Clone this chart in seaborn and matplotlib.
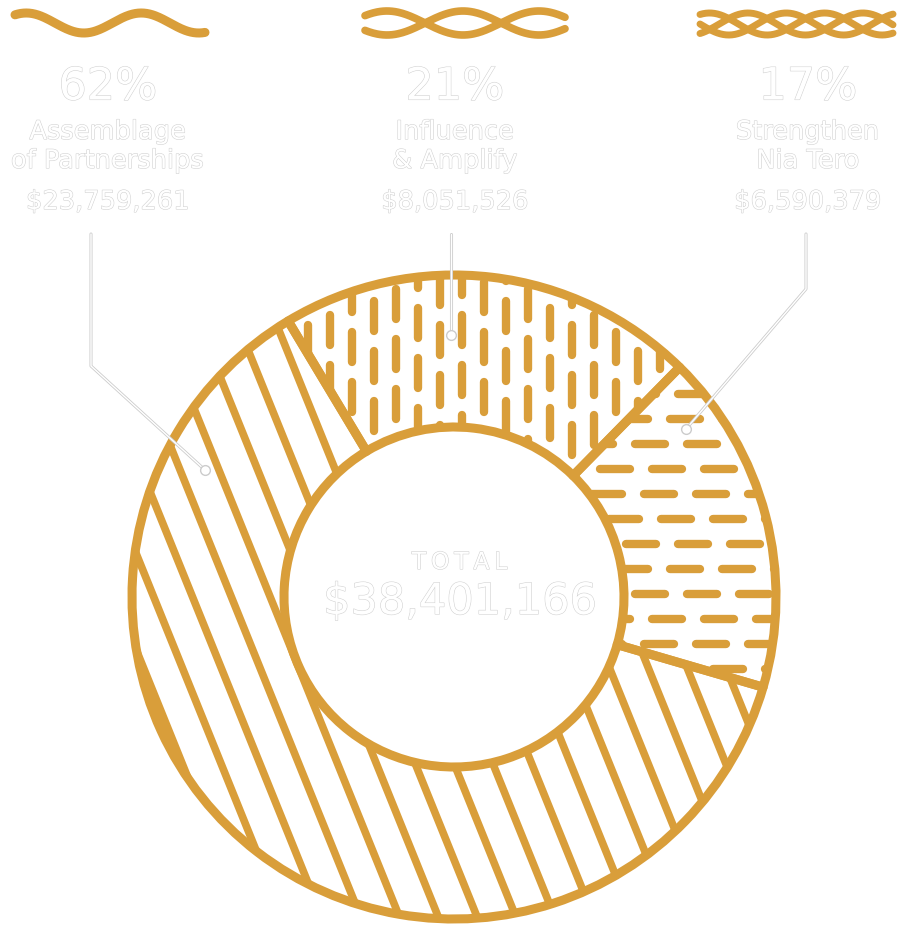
import numpy as np
import matplotlib
matplotlib.use("Agg")
import matplotlib.pyplot as plt
import matplotlib.patheffects as pe
from matplotlib.collections import LineCollection
import seaborn as sns

# data
segments = ["Influence\n& Amplify", "Strengthen\nNia Tero", "Assemblage\nof Partnerships"]
amounts = [8051526, 6590379, 23759261]
total = 38401166
label_order = [2, 0, 1]          # left, middle, right header columns
header_x = [108, 455, 808]

GOLD = "#D99E3A"
W, H = 900, 937

sns.set_theme(style="white")
plt.rcParams["font.family"] = ["DejaVu Sans"]

fig = plt.figure(figsize=(9, 9.37), dpi=100)
ax = fig.add_axes([0, 0, 1, 1])

cx, cy = 454, H - 598
R, ring_w = 322, 152
pcts = np.array(amounts) / total

wedges, _ = ax.pie(amounts, startangle=121, counterclock=False, radius=R,
                   center=(cx, cy),
                   wedgeprops=dict(width=ring_w, facecolor="none",
                                   edgecolor=GOLD, linewidth=6.5,
                                   joinstyle="round", zorder=3))
ax.set_xlim(0, W)
ax.set_ylim(0, H)
ax.set_aspect("equal")
ax.axis("off")


def add_hatch(segs, wedge, lw):
    lc = LineCollection(segs, colors=GOLD, linewidths=lw, capstyle="round", zorder=2)
    ax.add_collection(lc)
    lc.set_clip_path(wedge)


# Influence: short vertical dashes
segs = []
for i, x in enumerate(np.arange(cx - R, cx + R, 22)):
    off = (i % 2) * 24 + (i % 3) * 7
    for y in np.arange(cy - R + off, cy + R, 50):
        segs.append([(x, y), (x, y + 30)])
add_hatch(segs, wedges[0], 6)

# Strengthen: short horizontal dashes
segs = []
for j, y in enumerate(np.arange(cy - R, cy + R, 25)):
    off = (j % 2) * 26 + (j % 3) * 9
    for x in np.arange(cx - R + off, cx + R, 52):
        segs.append([(x, y), (x + 30, y)])
add_hatch(segs, wedges[1], 6)

# Assemblage: steep diagonal lines
ang = np.deg2rad(-68)
d = np.array([np.cos(ang), np.sin(ang)])
n = np.array([-d[1], d[0]])
segs = []
for t in np.arange(-1.2 * R, 1.2 * R, 36):
    p = np.array([cx, cy]) + n * t
    segs.append([tuple(p - d * 1.3 * R), tuple(p + d * 1.3 * R)])
add_hatch(segs, wedges[2], 5.5)

# top decorative strands
xs = np.linspace(15, 205, 200)
ax.plot(xs, H - (24 + 10 * np.sin(2 * np.pi * (xs - 55) / 115)), color=GOLD, lw=6.5,
        solid_capstyle="round")
xs = np.linspace(365, 565, 200)
for ph in [0, np.pi]:
    ax.plot(xs, H - (24 - 12 * np.cos(2 * np.pi * (xs - 387) / 152 + ph)), color=GOLD,
            lw=5.5, solid_capstyle="round")
xs = np.linspace(700, 893, 200)
for ph in [0, 2 * np.pi / 3, 4 * np.pi / 3]:
    ax.plot(xs, H - (25 + 11 * np.sin(2 * np.pi * (xs - 700) / 115 + ph)), color=GOLD,
            lw=5, solid_capstyle="round")

outline = [pe.withStroke(linewidth=0.8, foreground="#d2d2d2")]


def outlined(x, y, s, size):
    ax.text(x, H - y, s, ha="center", va="center", fontsize=size, color="white",
            path_effects=outline, zorder=5)


for col, idx in enumerate(label_order):
    x = header_x[col]
    outlined(x, 88, f"{round(pcts[idx] * 100)}%", 32)
    l1, l2 = segments[idx].split("\n")
    outlined(x, 133, l1, 18.5)
    outlined(x, 162, l2, 18.5)
    outlined(x, 203, f"${amounts[idx]:,}", 18.5)

outlined(460, 563, "T\u2009O\u2009T\u2009A\u2009L", 17)
outlined(460, 603, f"${total:,}", 31)

# leader lines
leaders = [
    [(91, 235), (91, 367), (205, 471)],
    [(451, 235), (451, 336)],
    [(806, 235), (806, 290), (686, 430)],
]
for pts in leaders:
    pts = np.array(pts, dtype=float)
    ax.plot(pts[:, 0], H - pts[:, 1], color="white", lw=1.0, zorder=6,
            path_effects=[pe.withStroke(linewidth=2.2, foreground="#cccccc")])
    ax.plot(pts[-1, 0], H - pts[-1, 1], "o", ms=7, mfc="white", mec="#cccccc",
            mew=1, zorder=7)

fig.savefig("out.png", dpi=100, facecolor="white")
